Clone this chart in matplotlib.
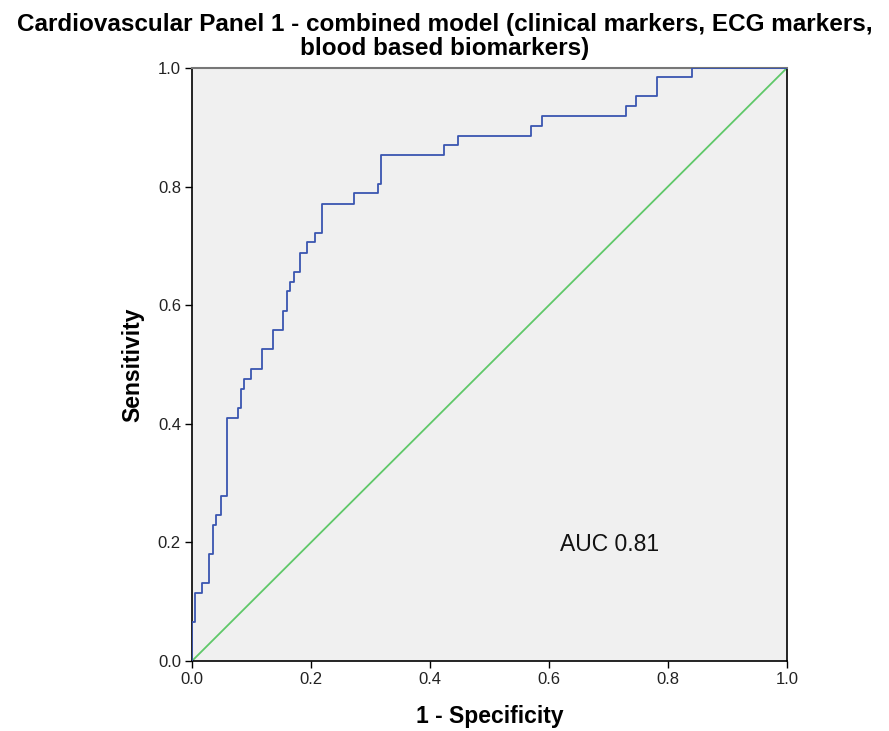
import matplotlib.pyplot as plt

# ROC-punten (1 - specificiteit, sensitiviteit)
fpr = [0.0, 0.0, 0.005, 0.017, 0.029, 0.036, 0.041, 0.048, 0.059, 0.077,
       0.082, 0.088, 0.100, 0.118, 0.136, 0.153, 0.159, 0.165, 0.172, 0.182,
       0.194, 0.206, 0.218, 0.272, 0.312, 0.317, 0.424, 0.447, 0.570, 0.588,
       0.729, 0.747, 0.781, 0.841, 1.0]
tpr = [0.0, 0.066, 0.115, 0.131, 0.181, 0.229, 0.246, 0.279, 0.410, 0.426,
       0.459, 0.476, 0.492, 0.526, 0.558, 0.591, 0.624, 0.640, 0.656, 0.689,
       0.706, 0.722, 0.771, 0.789, 0.804, 0.853, 0.870, 0.886, 0.903, 0.920,
       0.936, 0.953, 0.985, 1.0, 1.0]
ref = [0.0, 1.0]
auc = 0.81
ticks = [0.0, 0.2, 0.4, 0.6, 0.8, 1.0]

plt.rcParams['font.family'] = ['Liberation Sans', 'DejaVu Sans']

fig = plt.figure(figsize=(8.89, 7.31), dpi=100)
ax = fig.add_axes([0.216, 0.0958, 0.669, 0.811])
ax.set_facecolor('#f0f0f0')

ax.plot(ref, ref, color='#5fc869', linewidth=1.3, zorder=2)
ax.step(fpr, tpr, where='post', color='#3a55b0', linewidth=1.3, zorder=3)

ax.set_xlim(0, 1)
ax.set_ylim(0, 1)
ax.set_xticks(ticks)
ax.set_yticks(ticks)
ax.set_xticklabels([f'{t:.1f}' for t in ticks], fontsize=12)
ax.set_yticklabels([f'{t:.1f}' for t in ticks], fontsize=12)
ax.tick_params(direction='out', length=5, width=1, color='black', pad=3, labelcolor='#222222')

for kant in ['left', 'bottom', 'right']:
    ax.spines[kant].set_color('black')
    ax.spines[kant].set_linewidth(1.2)
ax.spines['top'].set_color('#777777')
ax.spines['top'].set_linewidth(1.5)

ax.text(0.618, 0.196, f'AUC {auc}', fontsize=16.5, color='#111111',
        transform=ax.transData, va='center', ha='left')

ax.set_xlabel('1 - Specificity', fontsize=16.5, fontweight='bold', labelpad=13)
ax.set_ylabel('Sensitivity', fontsize=16.5, fontweight='bold', labelpad=10)

fig.text(0.5, 0.918, 'Cardiovascular Panel 1 - combined model (clinical markers, ECG markers,\nblood based biomarkers)',
         ha='center', va='bottom', fontsize=17.5, fontweight='bold', linespacing=1.05)

fig.savefig('out.png', dpi=100, facecolor='white')
